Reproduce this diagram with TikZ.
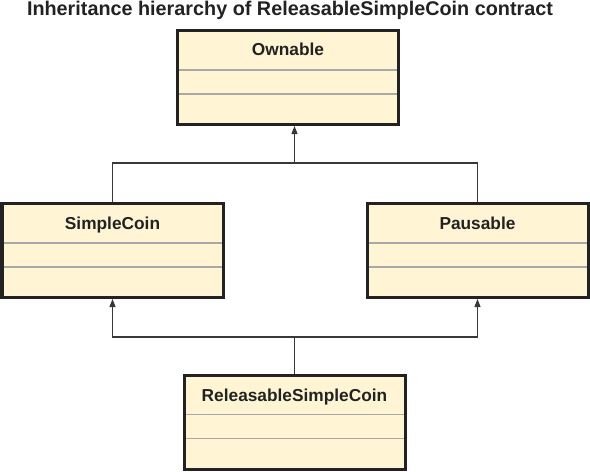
\documentclass[tikz,border=0pt]{standalone}
\usepackage{fontspec}
\setmainfont{Liberation Sans}
\usetikzlibrary{arrows.meta,calc}
\definecolor{boxfill}{HTML}{FFF5D4}
\definecolor{boxline}{HTML}{222222}
\definecolor{divline}{HTML}{A8A8A8}
\definecolor{conline}{HTML}{383838}
\tikzset{
  cls/.style={draw=boxline, line width=3pt, fill=boxfill, rectangle, inner sep=0pt,
    minimum width=221pt, minimum height=94pt},
  clsname/.style={font=\fontsize{17.3}{18}\selectfont\bfseries, text=boxline, anchor=base, inner sep=0pt},
  divider/.style={draw=divline, line width=1.6pt},
  conn/.style={draw=conline, line width=1.2pt},
  inherit/.style={conn, -{Triangle[length=8pt,width=6pt]}},
  titletext/.style={font=\fontsize{19.8}{21}\selectfont\bfseries, text=boxline, anchor=base, inner sep=0pt}
}
\begin{document}
\begin{tikzpicture}[x=1pt,y=-1pt]
\useasboundingbox (0,0) rectangle (590,472);
\node[titletext] (title) at (290,15.7) {Inheritance hierarchy of ReleasableSimpleCoin contract};

% boxes
\node[cls] (own) at (288,77.5) {};
\node[cls] (simple) at (112.5,250.5) {};
\node[cls] (paus) at (477.5,250.5) {};
\node[cls] (rel) at (294.5,422) {};

% names
\node[clsname] (own-name) at (288,55.5) {Ownable};
\node[clsname] (simple-name) at (112.5,229) {SimpleCoin};
\node[clsname] (paus-name) at (477.5,229) {Pausable};
\node[clsname] (rel-name) at (294.5,401) {ReleasableSimpleCoin};

% dividers
\foreach \b in {own,simple,paus,rel}{
  \draw[divider] ($(\b.north west)+(3,41)$) -- ($(\b.north east)+(-3,41)$);
  \draw[divider] ($(\b.north west)+(3,65)$) -- ($(\b.north east)+(-3,65)$);
}

% connectors
\coordinate (hubA) at (294.5,163);
\coordinate (hubB) at (294.5,337);
\draw[conn] (simple.north) |- (hubA) -| (paus.north);
\draw[inherit] (hubA) -- (hubA |- own.south);
\draw[conn] (rel.north) -- (hubB);
\draw[inherit] (hubB) -| (simple.south);
\draw[inherit] (hubB) -| (paus.south);
\end{tikzpicture}
\end{document}
